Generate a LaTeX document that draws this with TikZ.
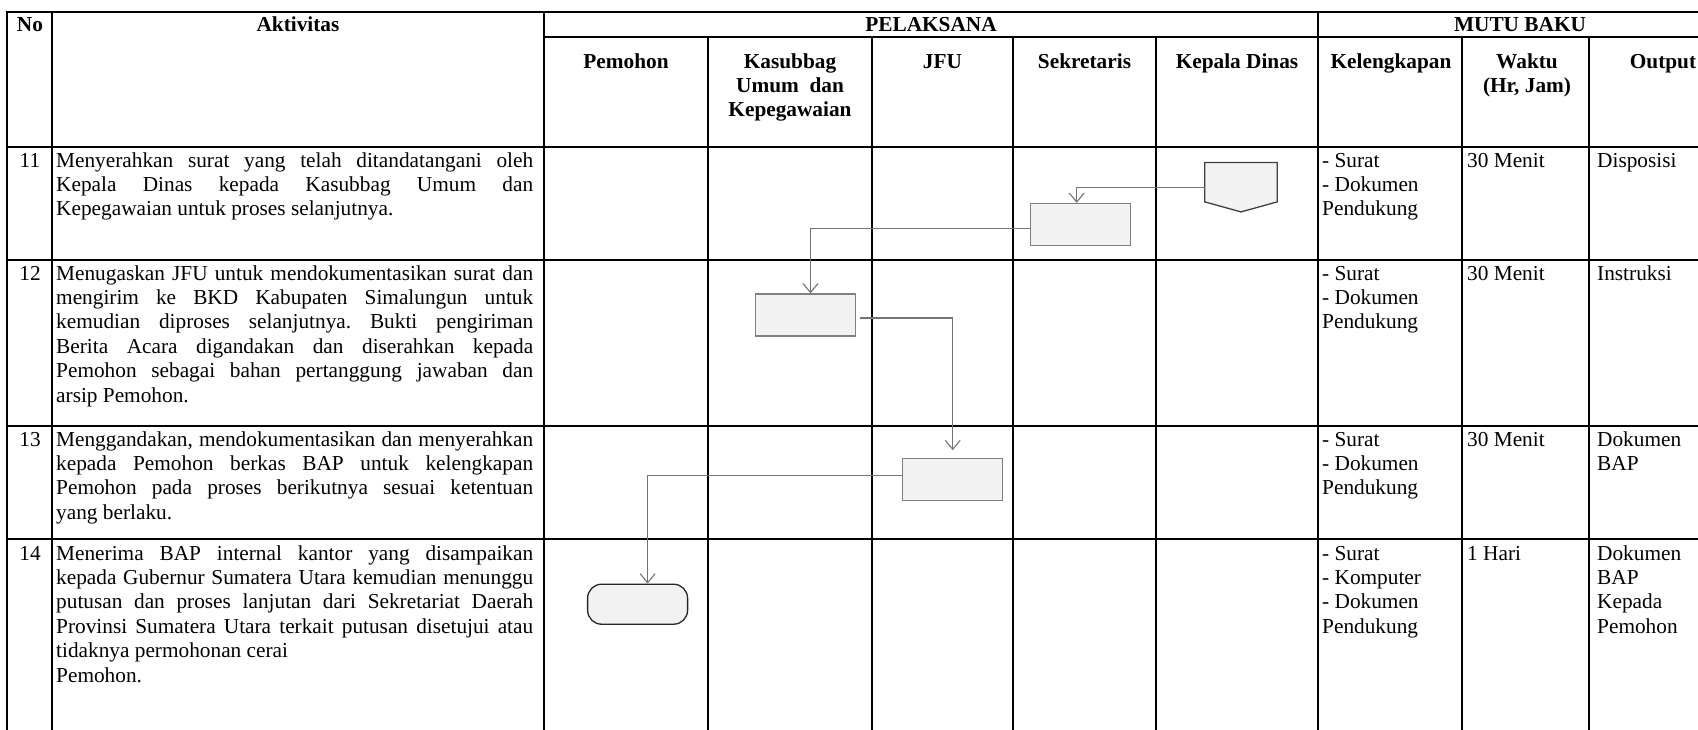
\documentclass[tikz,border=0pt]{standalone}
\usepackage{fontspec}
\setmainfont{Liberation Serif}
\usetikzlibrary{arrows.meta}
\frenchspacing
% one justified line of a cell, and stacked lines (left / centred)
\newcommand\jl[1]{\hbox to 477pt{\spaceskip=0.25em plus 20em minus 0.04em\relax #1}}
\newcommand\lstack[1]{\vtop{\halign{##\hfil\cr#1\crcr}}}
\newcommand\cstack[1]{\vtop{\halign{\hfil##\hfil\cr#1\crcr}}}
\tikzset{
  txt/.style={inner sep=0pt, font=\fontsize{21.3pt}{24.4pt}\selectfont},
  cell/.style={txt, anchor=base west},
  num/.style={txt, anchor=base},
  head/.style={txt, anchor=base, font=\fontsize{21.3pt}{24.4pt}\selectfont\bfseries},
  grid/.style={line width=2.2pt, line cap=rect},
  box/.style={draw=black!50, line width=1.3pt, fill=black!5, minimum width=100pt,
    minimum height=42pt, inner sep=0pt},
  term/.style={box, draw=black!85, rounded corners=14pt, minimum height=40pt},
  conn/.style={draw=black!55, line width=1.1pt, -{Straight Barb[length=9pt,width=15pt]}},
}
\begin{document}
\begin{tikzpicture}[x=1pt,y=-1pt]
\useasboundingbox (0,0) rectangle (1698,729);
\clip (0,0) rectangle (1698,729);

% table rules
\draw[grid] (7,12) -- (1745,12);
\draw[grid] (544,37) -- (1745,37);
\foreach \y in {147,260,425.6,539} \draw[grid] (7,\y) -- (1745,\y);
\foreach \x in {7,52,544,1318} \draw[grid] (\x,12) -- (\x,745);
\foreach \x in {708,872,1013,1156,1462,1589} \draw[grid] (\x,37) -- (\x,745);

% header
\node[head] (hno)  at (30,31)    {No};
\node[head] (hakt) at (298,31)   {Aktivitas};
\node[head] (hpel) at (931,31)   {PELAKSANA};
\node[head] (hmut) at (1520,31)  {MUTU BAKU};
\node[head] (hpem) at (626,68)   {Pemohon};
\node[head] (hkas) at (790,68)   {\cstack{Kasubbag\cr Umum\ \ dan\cr Kepegawaian}};
\node[head] (hjfu) at (942.5,68) {JFU};
\node[head] (hsek) at (1084.5,68){Sekretaris};
\node[head] (hkd)  at (1237,68)  {Kepala Dinas};
\node[head] (hkel) at (1391,68)  {Kelengkapan};
\node[head] (hwak) at (1527,68)  {\cstack{Waktu\cr (Hr, Jam)}};
\node[head] (hout) at (1663,68)  {Output};

% row 11
\node[num]  (n11) at (30,167) {11};
\node[cell] (a11) at (56,167) {\vtop{%
  \jl{Menyerahkan surat yang telah ditandatangani oleh}%
  \jl{Kepala Dinas kepada Kasubbag Umum dan}%
  \hbox{Kepegawaian untuk proses selanjutnya.}}};
\node[cell] (k11) at (1322,167) {\lstack{- Surat\cr - Dokumen\cr Pendukung}};
\node[cell] (w11) at (1467,167) {30 Menit};
\node[cell] (o11) at (1597,167) {Disposisi};

% row 12
\node[num]  (n12) at (30,280) {12};
\node[cell] (a12) at (56,280) {\vtop{%
  \jl{Menugaskan JFU untuk mendokumentasikan surat dan}%
  \jl{mengirim ke BKD Kabupaten Simalungun untuk}%
  \jl{kemudian diproses selanjutnya. Bukti pengiriman}%
  \jl{Berita Acara digandakan dan diserahkan kepada}%
  \jl{Pemohon sebagai bahan pertanggung jawaban dan}%
  \hbox{arsip Pemohon.}}};
\node[cell] (k12) at (1322,280) {\lstack{- Surat\cr - Dokumen\cr Pendukung}};
\node[cell] (w12) at (1467,280) {30 Menit};
\node[cell] (o12) at (1597,280) {Instruksi};

% row 13
\node[num]  (n13) at (30,446) {13};
\node[cell] (a13) at (56,446) {\vtop{%
  \jl{Menggandakan, mendokumentasikan dan menyerahkan}%
  \jl{kepada Pemohon berkas BAP untuk kelengkapan}%
  \jl{Pemohon pada proses berikutnya sesuai ketentuan}%
  \hbox{yang berlaku.}}};
\node[cell] (k13) at (1322,446) {\lstack{- Surat\cr - Dokumen\cr Pendukung}};
\node[cell] (w13) at (1467,446) {30 Menit};
\node[cell] (o13) at (1597,446) {\lstack{Dokumen\cr BAP}};

% row 14
\node[num]  (n14) at (30,560) {14};
\node[cell] (a14) at (56,560) {\vtop{%
  \jl{Menerima BAP internal kantor yang disampaikan}%
  \jl{kepada Gubernur Sumatera Utara kemudian menunggu}%
  \jl{putusan dan proses lanjutan dari Sekretariat Daerah}%
  \jl{Provinsi Sumatera Utara terkait putusan disetujui atau}%
  \hbox{tidaknya permohonan cerai}%
  \hbox{Pemohon.}}};
\node[cell] (k14) at (1322,560) {\lstack{- Surat\cr - Komputer\cr - Dokumen\cr Pendukung}};
\node[cell] (w14) at (1467,560) {1 Hari};
\node[cell] (o14) at (1597,560) {\lstack{Dokumen\cr BAP\cr Kepada\cr Pemohon}};

% flow shapes
\node[minimum width=72pt, minimum height=49pt, inner sep=0pt] (kadis) at (1241,187.2) {};
\filldraw[draw=black!75, fill=black!5, line width=1.3pt, line join=miter]
  (kadis.north west) -- (kadis.north east) -- ([yshift=10pt]kadis.south east)
  -- (kadis.south) -- ([yshift=10pt]kadis.south west) -- cycle;
\node[box]  (sek)  at (1080.7,224.5) {};
\node[box]  (kas)  at (805.5,315)    {};
\node[box]  (jfu)  at (952.7,479.8)  {};
\node[term] (pem)  at (637.6,604.2)  {};

% connectors
\draw[conn] (kadis.west) -| ([xshift=-4pt]sek.north);
\draw[conn] ([yshift=-4pt]sek.west) -| ([xshift=5pt]kas.north);
\draw[conn, shorten >=8pt] ([yshift=-3pt,xshift=4pt]kas.east) -| (jfu.north);
\draw[conn] ([yshift=4pt]jfu.west) -| ([xshift=10pt]pem.north);
\end{tikzpicture}
\end{document}
